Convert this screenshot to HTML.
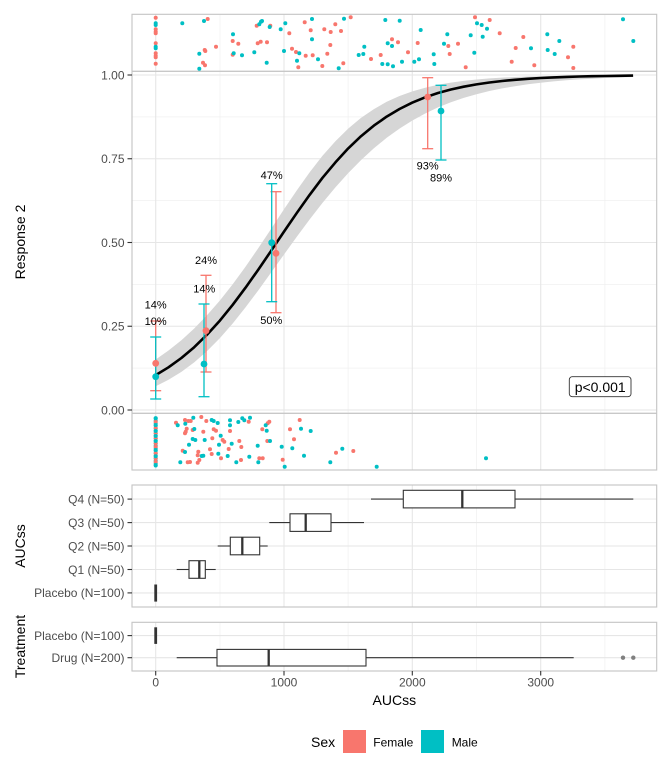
<!DOCTYPE html>
<html><head><meta charset="utf-8">
<style>
html,body{margin:0;padding:0;background:#fff;}
svg{display:block;font-family:"Liberation Sans",Arial,sans-serif;}
</style></head><body>
<svg width="672" height="768" viewBox="0 0 672 768" xmlns="http://www.w3.org/2000/svg">
<rect width="672" height="768" fill="#fff"/>
<!-- minor grid -->
<g stroke="#f0f0f0" stroke-width="0.7" fill="none">
<line x1="132" x2="656.7" y1="116.9" y2="116.9"/><line x1="132" x2="656.7" y1="200.6" y2="200.6"/>
<line x1="132" x2="656.7" y1="284.4" y2="284.4"/><line x1="132" x2="656.7" y1="368.1" y2="368.1"/>
<line x1="220" x2="220" y1="14.3" y2="470"/><line x1="348.1" x2="348.1" y1="14.3" y2="470"/>
<line x1="476.5" x2="476.5" y1="14.3" y2="470"/><line x1="604.9" x2="604.9" y1="14.3" y2="470"/>
<line x1="220" x2="220" y1="485" y2="607"/><line x1="348.1" x2="348.1" y1="485" y2="607"/>
<line x1="476.5" x2="476.5" y1="485" y2="607"/><line x1="604.9" x2="604.9" y1="485" y2="607"/>
<line x1="220" x2="220" y1="622.3" y2="671"/><line x1="348.1" x2="348.1" y1="622.3" y2="671"/>
<line x1="476.5" x2="476.5" y1="622.3" y2="671"/><line x1="604.9" x2="604.9" y1="622.3" y2="671"/>
</g>
<!-- major grid -->
<g stroke="#e6e6e6" stroke-width="1.1" fill="none">
<line x1="132" x2="656.7" y1="75" y2="75"/><line x1="132" x2="656.7" y1="158.75" y2="158.75"/>
<line x1="132" x2="656.7" y1="242.5" y2="242.5"/><line x1="132" x2="656.7" y1="326.25" y2="326.25"/>
<line x1="132" x2="656.7" y1="410" y2="410"/>
<line x1="155.7" x2="155.7" y1="14.3" y2="470"/><line x1="284" x2="284" y1="14.3" y2="470"/>
<line x1="412.3" x2="412.3" y1="14.3" y2="470"/><line x1="540.7" x2="540.7" y1="14.3" y2="470"/>
<line x1="155.7" x2="155.7" y1="485" y2="607"/><line x1="284" x2="284" y1="485" y2="607"/>
<line x1="412.3" x2="412.3" y1="485" y2="607"/><line x1="540.7" x2="540.7" y1="485" y2="607"/>
<line x1="132" x2="656.7" y1="499.1" y2="499.1"/><line x1="132" x2="656.7" y1="522.6" y2="522.6"/>
<line x1="132" x2="656.7" y1="546" y2="546"/><line x1="132" x2="656.7" y1="569.5" y2="569.5"/>
<line x1="132" x2="656.7" y1="592.9" y2="592.9"/>
<line x1="155.7" x2="155.7" y1="622.3" y2="671"/><line x1="284" x2="284" y1="622.3" y2="671"/>
<line x1="412.3" x2="412.3" y1="622.3" y2="671"/><line x1="540.7" x2="540.7" y1="622.3" y2="671"/>
<line x1="132" x2="656.7" y1="635.6" y2="635.6"/><line x1="132" x2="656.7" y1="657.7" y2="657.7"/>
</g>
<!-- separators -->
<g stroke="#c8c8c8" stroke-width="1.3">
<line x1="132" x2="656.7" y1="71.3" y2="71.3"/>
<line x1="132" x2="656.7" y1="413.3" y2="413.3"/>
</g>
<!-- confidence band -->
<polygon fill="#d6d6d6" points="155.7,359.5 168.5,350.5 181.4,340.2 194.2,328.5 207.0,315.2 219.9,300.5 232.7,284.2 245.5,266.7 258.4,248.0 271.2,228.7 284.0,209.2 296.9,190.2 309.7,172.3 322.5,155.8 335.4,141.2 348.2,128.6 361.0,117.9 373.9,109.1 386.7,101.8 399.5,96.0 412.4,91.4 425.2,87.7 438.0,84.8 450.9,82.6 463.7,80.9 476.5,79.5 489.4,78.4 502.2,77.6 515.0,77.0 527.9,76.5 540.7,76.2 553.5,75.9 566.4,75.7 579.2,75.5 592.0,75.4 604.9,75.3 617.7,75.2 633.1,75.2 633.1,77.0 617.7,77.5 604.9,78.0 592.0,78.7 579.2,79.4 566.4,80.3 553.5,81.4 540.7,82.7 527.9,84.3 515.0,86.2 502.2,88.4 489.4,91.0 476.5,94.2 463.7,97.9 450.9,102.3 438.0,107.4 425.2,113.5 412.4,120.5 399.5,128.6 386.7,137.8 373.9,148.3 361.0,160.1 348.2,173.1 335.4,187.4 322.5,202.9 309.7,219.4 296.9,236.6 284.0,254.5 271.2,272.4 258.4,290.2 245.5,307.4 232.7,323.5 219.9,338.1 207.0,351.1 194.2,362.4 181.4,371.9 168.5,379.8 155.7,386.2"/>
<!-- fitted curve -->
<polyline fill="none" stroke="#000" stroke-width="2.6" stroke-linejoin="round" stroke-linecap="butt" points="155.7,375.1 168.5,367.3 181.4,358.0 194.2,347.2 207.0,334.7 219.9,320.6 232.7,304.8 245.5,287.7 258.4,269.5 271.2,250.7 284.0,231.6 296.9,212.8 309.7,194.8 322.5,177.8 335.4,162.4 348.2,148.4 361.0,136.2 373.9,125.6 386.7,116.6 399.5,109.0 412.4,102.6 425.2,97.3 438.0,93.0 450.9,89.5 463.7,86.7 476.5,84.4 489.4,82.5 502.2,81.0 515.0,79.8 527.9,78.8 540.7,78.0 553.5,77.4 566.4,76.9 579.2,76.5 592.0,76.2 604.9,76.0 617.7,75.8 633.1,75.6"/>

<!-- jitter dots: top strip red -->
<g fill="#F8766D">
<circle cx="155.7" cy="17.7" r="2"/><circle cx="155.7" cy="29.3" r="2"/><circle cx="155.7" cy="31.7" r="2"/><circle cx="155.7" cy="33.3" r="2"/><circle cx="155.7" cy="43.3" r="2"/><circle cx="155.7" cy="53.3" r="2"/><circle cx="155.7" cy="55.7" r="2"/><circle cx="155.7" cy="57.3" r="2"/><circle cx="155.7" cy="63.7" r="2"/>
<circle cx="207.7" cy="19" r="2"/><circle cx="216" cy="46.7" r="2"/><circle cx="204.7" cy="50" r="2"/><circle cx="205.3" cy="51" r="2"/><circle cx="203" cy="62.7" r="2"/><circle cx="205" cy="65.3" r="2"/><circle cx="232.7" cy="41" r="2"/><circle cx="238.3" cy="43.7" r="2"/><circle cx="232.7" cy="54.7" r="2"/><circle cx="256.7" cy="25.7" r="2"/><circle cx="270.3" cy="25.7" r="2"/><circle cx="257.7" cy="43.3" r="2"/><circle cx="260.7" cy="41.7" r="2"/><circle cx="267" cy="42.3" r="2"/><circle cx="289.3" cy="33.3" r="2"/><circle cx="292" cy="48.7" r="2"/><circle cx="296" cy="52" r="2"/><circle cx="298.3" cy="67.3" r="2"/><circle cx="304.7" cy="22.3" r="2"/><circle cx="310.7" cy="30.3" r="2"/><circle cx="305.7" cy="55.7" r="2"/><circle cx="312.7" cy="55.3" r="2"/><circle cx="322.3" cy="66" r="2"/><circle cx="324.3" cy="29.3" r="2"/><circle cx="330.7" cy="32" r="2"/><circle cx="335.3" cy="24.3" r="2"/><circle cx="330.3" cy="45" r="2"/><circle cx="327.3" cy="53.7" r="2"/><circle cx="350.7" cy="17.3" r="2"/><circle cx="341" cy="31" r="2"/><circle cx="343.3" cy="63.3" r="2"/><circle cx="392" cy="39.3" r="2"/><circle cx="398" cy="42.3" r="2"/><circle cx="371" cy="59" r="2"/><circle cx="380.7" cy="55" r="2"/><circle cx="408" cy="52.3" r="2"/><circle cx="417.7" cy="43" r="2"/><circle cx="448.3" cy="46" r="2"/><circle cx="458" cy="43.7" r="2"/><circle cx="449.7" cy="54" r="2"/><circle cx="465.7" cy="67.3" r="2"/><circle cx="475" cy="17.3" r="2"/><circle cx="489.7" cy="20" r="2"/><circle cx="499.7" cy="33.3" r="2"/><circle cx="523.3" cy="37" r="2"/><circle cx="515.7" cy="48" r="2"/><circle cx="511.7" cy="61.7" r="2"/><circle cx="534.3" cy="65.3" r="2"/><circle cx="573.3" cy="46.7" r="2"/><circle cx="568" cy="57.3" r="2"/><circle cx="573.3" cy="68" r="2"/>
</g>
<!-- top strip teal -->
<g fill="#00BFC4">
<circle cx="155.7" cy="23.3" r="2"/><circle cx="155.7" cy="25" r="2"/><circle cx="155.7" cy="46.7" r="2"/><circle cx="155.7" cy="48.3" r="2"/>
<circle cx="182.3" cy="23.3" r="2"/><circle cx="204" cy="21" r="2"/><circle cx="199.3" cy="53.7" r="2"/><circle cx="199.3" cy="68.7" r="2"/><circle cx="233" cy="34.3" r="2"/><circle cx="233.7" cy="53.3" r="2"/><circle cx="242" cy="55.3" r="2"/><circle cx="254.3" cy="52.3" r="2"/><circle cx="259.3" cy="24.3" r="2"/><circle cx="261" cy="21.7" r="2"/><circle cx="262" cy="21" r="2"/><circle cx="269.7" cy="27" r="2"/><circle cx="266.7" cy="62.7" r="2"/><circle cx="280.7" cy="29.3" r="2"/><circle cx="285.3" cy="23.3" r="2"/><circle cx="284" cy="51" r="2"/><circle cx="299.3" cy="53.3" r="2"/><circle cx="297" cy="60.7" r="2"/><circle cx="312" cy="19" r="2"/><circle cx="312" cy="39.3" r="2"/><circle cx="318" cy="59.3" r="2"/><circle cx="338.7" cy="68.3" r="2"/><circle cx="344" cy="18.7" r="2"/><circle cx="385.3" cy="20" r="2"/><circle cx="399.7" cy="20.7" r="2"/><circle cx="387.7" cy="43.3" r="2"/><circle cx="392" cy="46" r="2"/><circle cx="364.3" cy="46.7" r="2"/><circle cx="363.3" cy="54" r="2"/><circle cx="358.7" cy="55" r="2"/><circle cx="382.3" cy="64" r="2"/><circle cx="387.7" cy="64.3" r="2"/><circle cx="393" cy="66.3" r="2"/><circle cx="402" cy="61.7" r="2"/><circle cx="420.7" cy="30" r="2"/><circle cx="414.3" cy="61.7" r="2"/><circle cx="419" cy="59.3" r="2"/><circle cx="433.7" cy="54.3" r="2"/><circle cx="434.3" cy="64" r="2"/><circle cx="447.3" cy="34.3" r="2"/><circle cx="444" cy="43.7" r="2"/><circle cx="470.7" cy="35.3" r="2"/><circle cx="474.3" cy="52.7" r="2"/><circle cx="477" cy="23.3" r="2"/><circle cx="481.7" cy="25" r="2"/><circle cx="487" cy="28.7" r="2"/><circle cx="482.7" cy="36.7" r="2"/><circle cx="531" cy="48.3" r="2"/><circle cx="547.3" cy="34.3" r="2"/><circle cx="559.3" cy="41" r="2"/><circle cx="547.7" cy="50" r="2"/><circle cx="554.7" cy="54" r="2"/><circle cx="623" cy="19.3" r="2"/><circle cx="633.3" cy="41" r="2"/>
</g>
<!-- bottom strip placebo column -->
<g fill="#00BFC4">
<circle cx="155.7" cy="418.3" r="2"/><circle cx="155.7" cy="420.8" r="2"/><circle cx="155.7" cy="423.3" r="2"/><circle cx="155.7" cy="425.8" r="2"/><circle cx="155.7" cy="428.3" r="2"/><circle cx="155.7" cy="430.8" r="2"/><circle cx="155.7" cy="433.3" r="2"/><circle cx="155.7" cy="435.8" r="2"/><circle cx="155.7" cy="438.3" r="2"/><circle cx="155.7" cy="440.8" r="2"/><circle cx="155.7" cy="443.3" r="2"/><circle cx="155.7" cy="445.8" r="2"/><circle cx="155.7" cy="448.3" r="2"/><circle cx="155.7" cy="450.8" r="2"/><circle cx="155.7" cy="453.3" r="2"/><circle cx="155.7" cy="455.8" r="2"/><circle cx="155.7" cy="458.3" r="2"/><circle cx="155.7" cy="460.8" r="2"/><circle cx="155.7" cy="463.3" r="2"/><circle cx="155.7" cy="465.5" r="2"/>
</g>
<g fill="#F8766D">
<circle cx="155.7" cy="421.7" r="2"/><circle cx="155.7" cy="428.3" r="2"/><circle cx="155.7" cy="433.3" r="2"/><circle cx="155.7" cy="438.3" r="2"/><circle cx="155.7" cy="443.3" r="2"/><circle cx="155.7" cy="446.7" r="2"/><circle cx="155.7" cy="453.3" r="2"/><circle cx="155.7" cy="458.3" r="2"/><circle cx="155.7" cy="461.7" r="2"/>
</g>
<g fill="#00BFC4">
<circle cx="155.7" cy="418.3" r="2"/><circle cx="155.7" cy="425" r="2"/><circle cx="155.7" cy="431" r="2"/><circle cx="155.7" cy="436" r="2"/><circle cx="155.7" cy="441" r="2"/><circle cx="155.7" cy="450" r="2"/><circle cx="155.7" cy="456.3" r="2"/><circle cx="155.7" cy="465" r="2"/>
</g>
<!-- bottom strip red -->
<g fill="#F8766D">
<circle cx="176" cy="422.7" r="2"/><circle cx="185" cy="420" r="2"/><circle cx="188.3" cy="421" r="2"/><circle cx="190.7" cy="421" r="2"/><circle cx="185.7" cy="431.7" r="2"/><circle cx="185" cy="433.3" r="2"/><circle cx="186.7" cy="428.7" r="2"/><circle cx="182.7" cy="450.7" r="2"/><circle cx="187.7" cy="462.3" r="2"/><circle cx="190" cy="462" r="2"/><circle cx="192.7" cy="430" r="2"/><circle cx="201.3" cy="417" r="2"/><circle cx="206.3" cy="421" r="2"/><circle cx="203.3" cy="431.7" r="2"/><circle cx="213.7" cy="429.3" r="2"/><circle cx="216" cy="430.7" r="2"/><circle cx="212.3" cy="438.3" r="2"/><circle cx="222.7" cy="440" r="2"/><circle cx="224.3" cy="441.7" r="2"/><circle cx="198.3" cy="451.7" r="2"/><circle cx="197.7" cy="455.3" r="2"/><circle cx="210" cy="449.3" r="2"/><circle cx="211.7" cy="454" r="2"/><circle cx="228.7" cy="449" r="2"/><circle cx="221" cy="458.3" r="2"/><circle cx="197.7" cy="462.7" r="2"/><circle cx="199.3" cy="460" r="2"/><circle cx="241" cy="460" r="2"/><circle cx="259.3" cy="458.3" r="2"/><circle cx="262.7" cy="458.3" r="2"/><circle cx="230" cy="431" r="2"/><circle cx="248.7" cy="421.7" r="2"/><circle cx="239.3" cy="441" r="2"/><circle cx="241.3" cy="447" r="2"/><circle cx="262.3" cy="429.3" r="2"/><circle cx="267.7" cy="423.3" r="2"/><circle cx="269.3" cy="421.7" r="2"/><circle cx="267.3" cy="441" r="2"/><circle cx="294" cy="439.3" r="2"/><circle cx="290" cy="429.3" r="2"/><circle cx="299.7" cy="420" r="2"/><circle cx="282.7" cy="459.7" r="2"/><circle cx="336" cy="452.7" r="2"/><circle cx="353.3" cy="451" r="2"/>
</g>
<!-- bottom strip teal -->
<g fill="#00BFC4">
<circle cx="177.7" cy="425.3" r="2"/><circle cx="193.3" cy="417.7" r="2"/><circle cx="185.3" cy="423.7" r="2"/><circle cx="192.7" cy="439" r="2"/><circle cx="195.3" cy="440" r="2"/><circle cx="189" cy="444.7" r="2"/><circle cx="185" cy="452" r="2"/><circle cx="180.3" cy="462.3" r="2"/><circle cx="194.3" cy="429" r="2"/><circle cx="211.7" cy="420" r="2"/><circle cx="213.7" cy="421" r="2"/><circle cx="217.7" cy="423" r="2"/><circle cx="204.7" cy="440" r="2"/><circle cx="220.7" cy="435.7" r="2"/><circle cx="219" cy="444.7" r="2"/><circle cx="231.7" cy="443.7" r="2"/><circle cx="218.3" cy="453.7" r="2"/><circle cx="227.7" cy="456" r="2"/><circle cx="201.7" cy="456" r="2"/><circle cx="203.3" cy="455.7" r="2"/><circle cx="236.3" cy="462.3" r="2"/><circle cx="249.3" cy="456.7" r="2"/><circle cx="258.3" cy="462.3" r="2"/><circle cx="230" cy="420.3" r="2"/><circle cx="230" cy="425.3" r="2"/><circle cx="238.3" cy="422" r="2"/><circle cx="242.3" cy="418.3" r="2"/><circle cx="244.3" cy="420.3" r="2"/><circle cx="250" cy="417.7" r="2"/><circle cx="257.7" cy="445.7" r="2"/><circle cx="265.7" cy="425.3" r="2"/><circle cx="266.7" cy="430.7" r="2"/><circle cx="270" cy="441" r="2"/><circle cx="281.7" cy="446.7" r="2"/><circle cx="292.3" cy="448.3" r="2"/><circle cx="301" cy="428.7" r="2"/><circle cx="310.7" cy="431" r="2"/><circle cx="284.7" cy="466.7" r="2"/><circle cx="304" cy="455.7" r="2"/><circle cx="330.3" cy="462.3" r="2"/><circle cx="342.3" cy="448.7" r="2"/><circle cx="376.7" cy="466.7" r="2"/><circle cx="486" cy="458.3" r="2"/>
</g>

<!-- error bars -->
<g stroke-width="1.3" fill="none">
<g stroke="#F8766D">
<line x1="155.7" x2="155.7" y1="321" y2="390.7"/><line x1="150.2" x2="161.2" y1="321" y2="321"/><line x1="150.2" x2="161.2" y1="390.7" y2="390.7"/>
<line x1="206" x2="206" y1="275.3" y2="372"/><line x1="200.5" x2="211.5" y1="275.3" y2="275.3"/><line x1="200.5" x2="211.5" y1="372" y2="372"/>
<line x1="276" x2="276" y1="191.7" y2="312.7"/><line x1="270.5" x2="281.5" y1="191.7" y2="191.7"/><line x1="270.5" x2="281.5" y1="312.7" y2="312.7"/>
<line x1="427.7" x2="427.7" y1="77.7" y2="148.7"/><line x1="422.2" x2="433.2" y1="77.7" y2="77.7"/><line x1="422.2" x2="433.2" y1="148.7" y2="148.7"/>
</g>
<g stroke="#00BFC4">
<line x1="155.7" x2="155.7" y1="337" y2="399"/><line x1="150.2" x2="161.2" y1="337" y2="337"/><line x1="150.2" x2="161.2" y1="399" y2="399"/>
<line x1="204" x2="204" y1="304" y2="396.7"/><line x1="198.5" x2="209.5" y1="304" y2="304"/><line x1="198.5" x2="209.5" y1="396.7" y2="396.7"/>
<line x1="271.7" x2="271.7" y1="183.7" y2="301.7"/><line x1="266.2" x2="277.2" y1="183.7" y2="183.7"/><line x1="266.2" x2="277.2" y1="301.7" y2="301.7"/>
<line x1="441" x2="441" y1="85.3" y2="160"/><line x1="435.5" x2="446.5" y1="85.3" y2="85.3"/><line x1="435.5" x2="446.5" y1="160" y2="160"/>
</g>
</g>
<g>
<circle cx="155.7" cy="363.3" r="3.4" fill="#F8766D"/><circle cx="155.7" cy="376.7" r="3.4" fill="#00BFC4"/>
<circle cx="206" cy="330.7" r="3.4" fill="#F8766D"/><circle cx="204" cy="364" r="3.4" fill="#00BFC4"/>
<circle cx="276" cy="253.3" r="3.4" fill="#F8766D"/><circle cx="271.7" cy="242.7" r="3.4" fill="#00BFC4"/>
<circle cx="427.7" cy="97" r="3.4" fill="#F8766D"/><circle cx="441" cy="111" r="3.4" fill="#00BFC4"/>
</g>
<!-- percent labels -->
<g font-size="11" fill="#000" text-anchor="middle">
<text x="155.7" y="308.3">14%</text><text x="155.7" y="325">10%</text>
<text x="206" y="264">24%</text><text x="204.3" y="292.3">14%</text>
<text x="271.7" y="179">47%</text><text x="271.3" y="324">50%</text>
<text x="427.7" y="169.7">93%</text><text x="441" y="181.7">89%</text>
</g>
<rect x="569.3" y="376.7" width="61.7" height="20" rx="3" ry="3" fill="#fff" stroke="#333" stroke-width="0.9"/>
<text x="600.2" y="391.8" font-size="14" text-anchor="middle" fill="#000">p&lt;0.001</text>

<!-- boxplots -->
<g stroke="#333" stroke-width="1.1" fill="#fff">
<line x1="371" x2="403.3" y1="499.1" y2="499.1"/><line x1="515" x2="633.3" y1="499.1" y2="499.1"/>
<rect x="403.3" y="490.3" width="111.7" height="17.6"/>
<line x1="269.3" x2="290" y1="522.6" y2="522.6"/><line x1="331" x2="364" y1="522.6" y2="522.6"/>
<rect x="290" y="513.8" width="41" height="17.6"/>
<line x1="217.7" x2="230.3" y1="546" y2="546"/><line x1="259.7" x2="267.7" y1="546" y2="546"/>
<rect x="230.3" y="537.2" width="29.4" height="17.6"/>
<line x1="176.7" x2="189" y1="569.5" y2="569.5"/><line x1="205.3" x2="215.7" y1="569.5" y2="569.5"/>
<rect x="189" y="560.7" width="16.3" height="17.6"/>
<line x1="176.7" x2="217" y1="657.7" y2="657.7"/><line x1="366" x2="573.7" y1="657.7" y2="657.7"/>
<rect x="217" y="649.4" width="149" height="16.6"/>
</g>
<g stroke="#333" stroke-width="2.3">
<line x1="462.3" x2="462.3" y1="490.3" y2="507.9"/>
<line x1="305.7" x2="305.7" y1="513.8" y2="531.4"/>
<line x1="242.3" x2="242.3" y1="537.2" y2="554.8"/>
<line x1="199.3" x2="199.3" y1="560.7" y2="578.3"/>
<line x1="155.7" x2="155.7" y1="584.5" y2="601.6" stroke-width="2.8"/>
<line x1="155.7" x2="155.7" y1="627.3" y2="643.9" stroke-width="2.8"/>
<line x1="268.7" x2="268.7" y1="649.4" y2="666"/>
</g>
<circle cx="623" cy="657.7" r="2.2" fill="#808080"/><circle cx="633.3" cy="657.7" r="2.2" fill="#808080"/>

<!-- panel borders -->
<g fill="none" stroke="#c4c4c4" stroke-width="1.1">
<rect x="132" y="14.3" width="524.7" height="455.7"/>
<rect x="132" y="485" width="524.7" height="122"/>
<rect x="132" y="622.3" width="524.7" height="48.7"/>
</g>
<!-- ticks -->
<g stroke="#333" stroke-width="1.1">
<line x1="127.5" x2="132" y1="75" y2="75"/><line x1="127.5" x2="132" y1="158.75" y2="158.75"/>
<line x1="127.5" x2="132" y1="242.5" y2="242.5"/><line x1="127.5" x2="132" y1="326.25" y2="326.25"/>
<line x1="127.5" x2="132" y1="410" y2="410"/>
<line x1="127.5" x2="132" y1="499.1" y2="499.1"/><line x1="127.5" x2="132" y1="522.6" y2="522.6"/>
<line x1="127.5" x2="132" y1="546" y2="546"/><line x1="127.5" x2="132" y1="569.5" y2="569.5"/>
<line x1="127.5" x2="132" y1="592.9" y2="592.9"/>
<line x1="127.5" x2="132" y1="635.6" y2="635.6"/><line x1="127.5" x2="132" y1="657.7" y2="657.7"/>
<line x1="155.7" x2="155.7" y1="671" y2="675.5"/><line x1="284" x2="284" y1="671" y2="675.5"/>
<line x1="412.3" x2="412.3" y1="671" y2="675.5"/><line x1="540.7" x2="540.7" y1="671" y2="675.5"/>
</g>
<!-- tick labels -->
<g font-size="12" fill="#4d4d4d" text-anchor="end">
<text x="124.5" y="79.3">1.00</text><text x="124.5" y="163">0.75</text>
<text x="124.5" y="246.8">0.50</text><text x="124.5" y="330.5">0.25</text>
<text x="124.5" y="414.3">0.00</text>
<text x="124.5" y="503.4">Q4 (N=50)</text><text x="124.5" y="526.9">Q3 (N=50)</text>
<text x="124.5" y="550.3">Q2 (N=50)</text><text x="124.5" y="573.8">Q1 (N=50)</text>
<text x="124.5" y="597.2">Placebo (N=100)</text>
<text x="124.5" y="639.9">Placebo (N=100)</text><text x="124.5" y="662">Drug (N=200)</text>
</g>
<g font-size="12" fill="#4d4d4d" text-anchor="middle">
<text x="155.7" y="686.5">0</text><text x="284" y="686.5">1000</text>
<text x="412.3" y="686.5">2000</text><text x="540.7" y="686.5">3000</text>
</g>
<!-- axis titles -->
<g font-size="14" fill="#000" text-anchor="middle">
<text x="394.3" y="705">AUCss</text>
<text transform="translate(25,242) rotate(-90)">Response 2</text>
<text transform="translate(25,546) rotate(-90)">AUCss</text>
<text transform="translate(25,646.5) rotate(-90)">Treatment</text>
</g>
<!-- legend -->
<text x="311" y="747" font-size="14" fill="#000">Sex</text>
<rect x="343" y="730" width="23" height="23" fill="#F8766D"/>
<text x="373.3" y="746.3" font-size="12" fill="#000">Female</text>
<rect x="421" y="730" width="23" height="23" fill="#00BFC4"/>
<text x="451.7" y="746.3" font-size="12" fill="#000">Male</text>
</svg>
</body></html>
